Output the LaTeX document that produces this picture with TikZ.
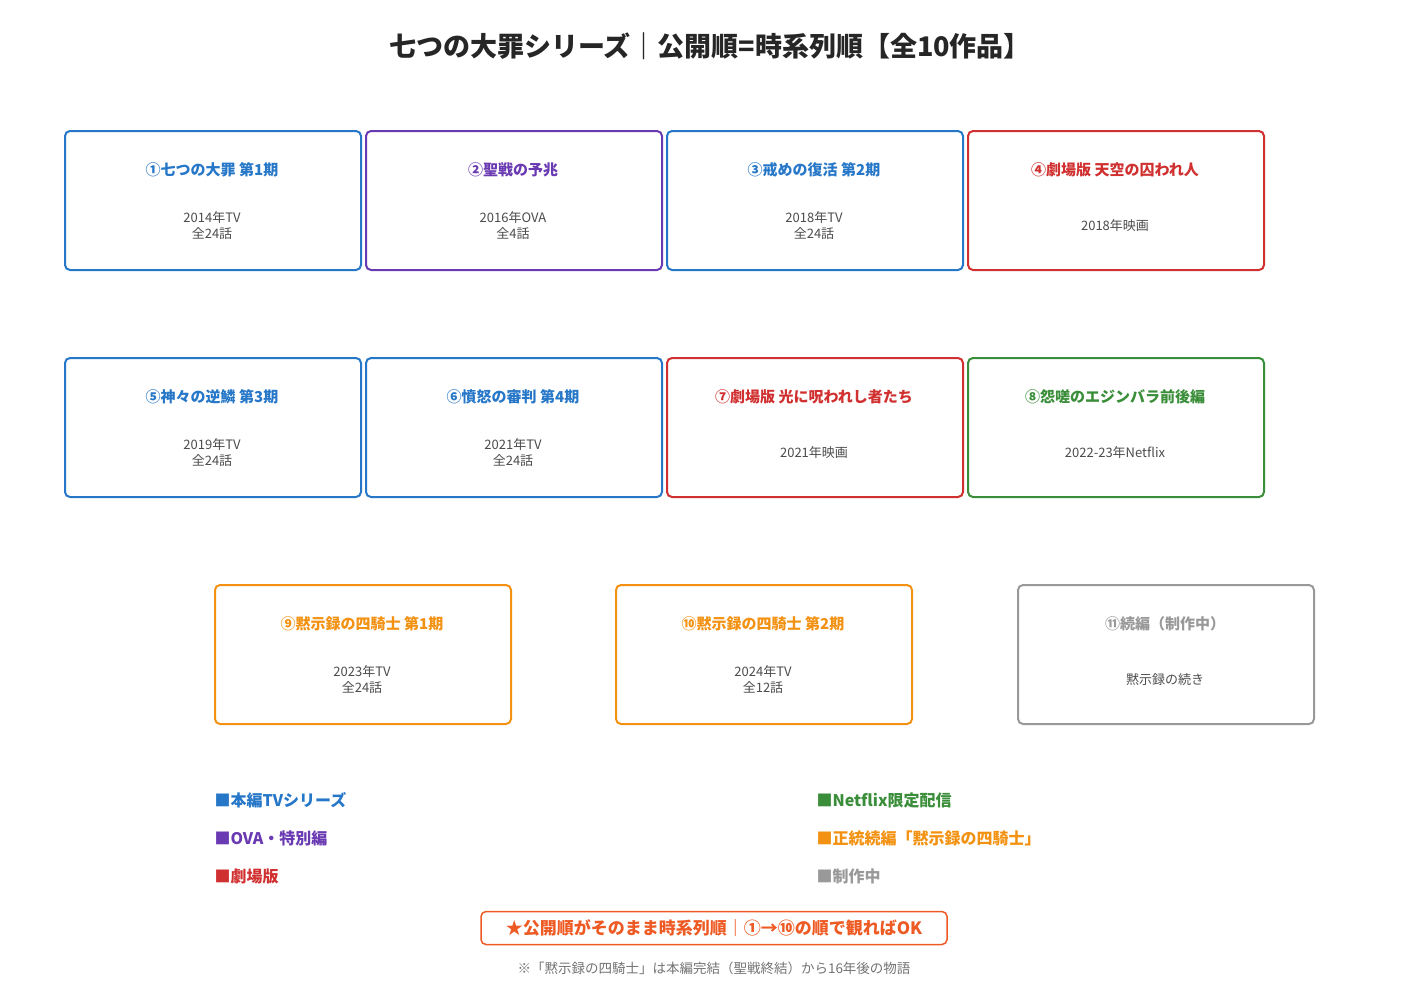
\documentclass[tikz,border=0pt]{standalone}
\usepackage{fontspec}
\setmainfont{Noto Sans CJK JP}
\begin{document}
\begin{tikzpicture}[x=1pt,y=-1pt,
 box/.style={draw=#1,line width=2pt,rounded corners=5pt,minimum width=296pt,minimum height=139pt,anchor=north west,fill=white},
 ttl/.style={text=#1,font=\fontsize{15}{18}\selectfont\bfseries},
 det/.style={text=black!70,font=\fontsize{13}{16}\selectfont,align=center},
 leg/.style={text=#1,font=\fontsize{16}{18}\selectfont\bfseries,anchor=west}]
\definecolor{cb}{HTML}{2677C8}
\definecolor{cp}{HTML}{6A3AB2}
\definecolor{cr}{HTML}{D03030}
\definecolor{cg}{HTML}{3A8E3A}
\definecolor{co}{HTML}{F39212}
\definecolor{cy}{HTML}{999999}
\definecolor{cx}{HTML}{EE5A24}
\useasboundingbox (0,0) rectangle (1427,1007);
\node[font=\fontsize{27}{30}\selectfont\bfseries,text=black!85] (title) at (710,46) {七つの大罪シリーズ｜公開順=時系列順【全10作品】};
\def\bx#1#2#3#4#5#6{%
 \node[box=#4] (b#1) at (#2,#3) {};
 \node[ttl=#4] (t#1) at (#2+148,#3+40) {#5};
 \node[det] (d#1) at (#2+148,#3+96) {#6};}
\bx{1}{64}{130}{cb}{①七つの大罪 第1期}{2014年TV\\全24話}
\bx{2}{365}{130}{cp}{②聖戦の予兆}{2016年OVA\\全4話}
\bx{3}{666}{130}{cb}{③戒めの復活 第2期}{2018年TV\\全24話}
\bx{4}{967}{130}{cr}{④劇場版 天空の囚われ人}{2018年映画}
\bx{5}{64}{357}{cb}{⑤神々の逆鱗 第3期}{2019年TV\\全24話}
\bx{6}{365}{357}{cb}{⑥憤怒の審判 第4期}{2021年TV\\全24話}
\bx{7}{666}{357}{cr}{⑦劇場版 光に呪われし者たち}{2021年映画}
\bx{8}{967}{357}{cg}{⑧怨嗟のエジンバラ前後編}{2022-23年Netflix}
\bx{9}{214}{584}{co}{⑨黙示録の四騎士 第1期}{2023年TV\\全24話}
\bx{10}{615}{584}{co}{⑩黙示録の四騎士 第2期}{2024年TV\\全12話}
\bx{11}{1017}{584}{cy}{⑪続編（制作中）}{黙示録の続き}
\node[leg=cb] (l1) at (211,800) {■本編TVシリーズ};
\node[leg=cp] (l2) at (211,838) {■OVA・特別編};
\node[leg=cr] (l3) at (211,876) {■劇場版};
\node[leg=cg] (l4) at (813,800) {■Netflix限定配信};
\node[leg=co] (l5) at (813,838) {■正統続編「黙示録の四騎士」};
\node[leg=cy] (l6) at (813,876) {■制作中};
\node[draw=cx,line width=1.5pt,rounded corners=5pt,text=cx,font=\fontsize{17}{18}\selectfont\bfseries,minimum width=466pt,minimum height=33pt] (ok) at (714,928) {★公開順がそのまま時系列順｜①→⑩の順で観ればOK};
\node[text=black!55,font=\fontsize{13.5}{14}\selectfont] (note) at (714,968) {※「黙示録の四騎士」は本編完結（聖戦終結）から16年後の物語};
\end{tikzpicture}
\end{document}
